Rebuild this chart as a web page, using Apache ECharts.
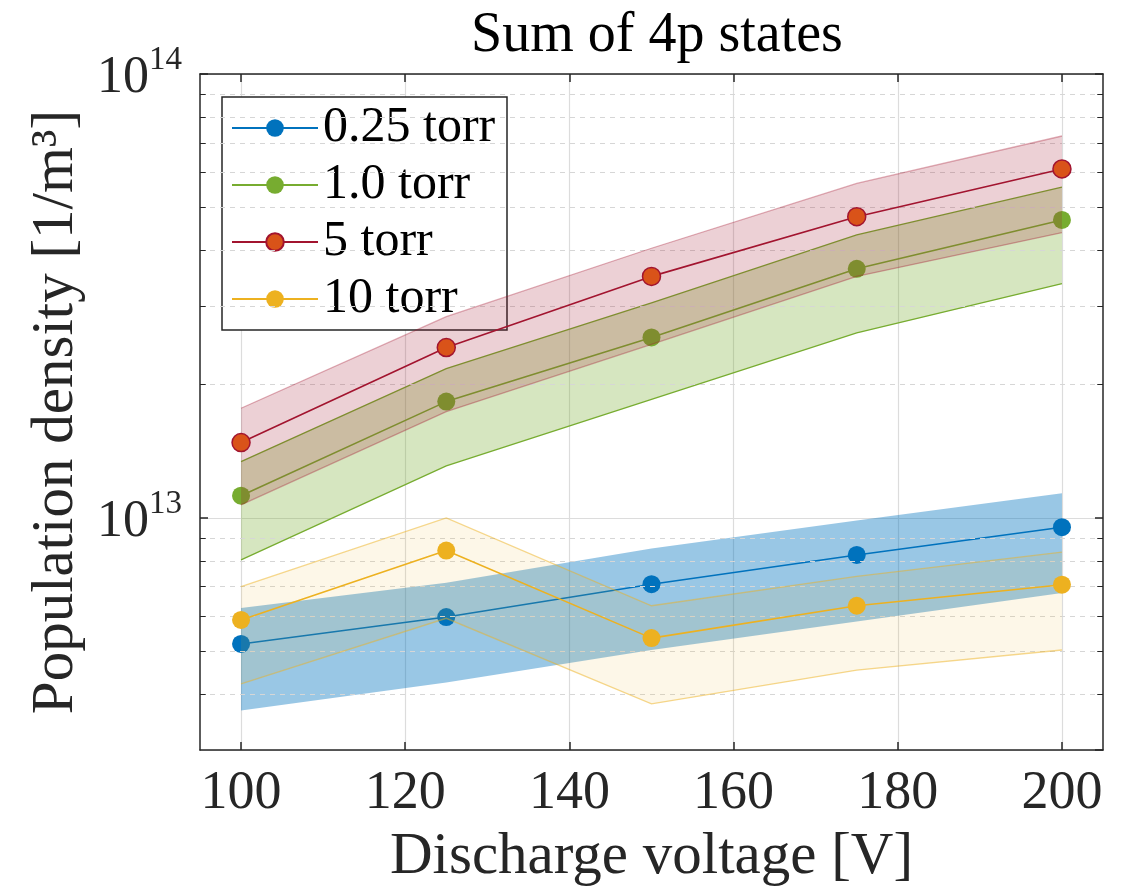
<!DOCTYPE html>
<html>
<head>
<meta charset="utf-8">
<script src="https://cdn.jsdelivr.net/npm/echarts@6/dist/echarts.min.js"></script>
<style>
  html, body { margin: 0; padding: 0; background: #fff; }
  #chart { width: 1122px; height: 890px; }
</style>
</head>
<body>
<div id="chart"></div>
<script>
// discharge voltage [V]
const voltage = [100, 125, 150, 175, 200];
const xTicks = [100, 120, 140, 160, 180, 200];

// population density [1/m^3]
const p025 = [5.20e12, 5.98e12, 7.09e12, 8.25e12, 9.53e12];
const p025Lo = [3.68e12, 4.26e12, 5.04e12, 5.84e12, 6.77e12];
const p025Hi = [6.27e12, 7.14e12, 8.53e12, 9.87e12, 1.137e13];

const p10 = [1.122e13, 1.828e13, 2.55e13, 3.64e13, 4.69e13];
const p10Lo = [8.04e12, 1.31e13, 1.85e13, 2.61e13, 3.37e13];
const p10Hi = [1.339e13, 2.17e13, 3.05e13, 4.34e13, 5.56e13];

const p5 = [1.478e13, 2.42e13, 3.50e13, 4.77e13, 6.11e13];
const p5Lo = [1.07e13, 1.735e13, 2.46e13, 3.50e13, 4.39e13];
const p5Hi = [1.766e13, 2.84e13, 4.05e13, 5.67e13, 7.25e13];

const p100 = [5.89e12, 8.44e12, 5.36e12, 6.34e12, 7.07e12];
const p100Lo = [4.23e12, 5.94e12, 3.81e12, 4.54e12, 5.04e12];
const p100Hi = [7.0e12, 1.0e13, 6.34e12, 7.38e12, 8.37e12];

// dashed minor grid values on the log axis
const minorY = [4e12, 5e12, 6e12, 7e12, 8e12, 9e12, 2e13, 3e13, 4e13, 5e13, 6e13, 7e13, 8e13, 9e13];

const X_MIN = 95, X_MAX = 205;
const Y_MIN = 3e12, Y_MAX = 1e14;
const FONT = "'Liberation Serif', 'DejaVu Serif', serif";

const chart = echarts.init(document.getElementById('chart'), null, { renderer: 'canvas' });

function band(name, lo, hi, fill, edge, edgeWidth, z) {
  return {
    name: name,
    type: 'custom',
    z: z,
    silent: true,
    clip: true,
    data: voltage.map((x, i) => [x, lo[i], hi[i]]),
    encode: { x: 0, y: [1, 2] },
    renderItem: (params, api) => {
      if (params.dataIndex !== 0) return;
      const top = voltage.map((x, i) => api.coord([x, hi[i]]));
      const bot = voltage.map((x, i) => api.coord([x, lo[i]])).reverse();
      const children = [{
        type: 'polygon',
        shape: { points: top.concat(bot) },
        style: { fill: fill, stroke: null }
      }];
      if (edge) {
        children.push({ type: 'polyline', shape: { points: top }, style: { stroke: edge, lineWidth: edgeWidth, fill: null } });
        children.push({ type: 'polyline', shape: { points: bot }, style: { stroke: edge, lineWidth: edgeWidth, fill: null } });
      }
      return { type: 'group', children: children };
    }
  };
}

function line(name, values, color, fill, border, z) {
  return {
    name: name,
    type: 'line',
    z: z,
    data: voltage.map((x, i) => [x, values[i]]),
    symbol: 'circle',
    symbolSize: 18,
    lineStyle: { color: color, width: 1.6 },
    itemStyle: { color: fill, borderColor: border, borderWidth: border === fill ? 0 : 1.5 },
    emphasis: { disabled: true }
  };
}

const tickLen = 0.7;
const minorLines = [];
minorY.forEach(v => {
  minorLines.push({ yAxis: v, lineStyle: { color: '#d6d6d6', type: [5, 5], width: 1 } });
  minorLines.push([{ coord: [X_MIN, v], lineStyle: { color: '#262626', type: 'solid', width: 1 } }, { coord: [X_MIN + tickLen, v] }]);
  minorLines.push([{ coord: [X_MAX - tickLen, v], lineStyle: { color: '#262626', type: 'solid', width: 1 } }, { coord: [X_MAX, v] }]);
});

const axisLineStyle = { color: '#262626', width: 1.5 };

const option = {
  animation: false,
  backgroundColor: '#fff',
  title: {
    text: 'Sum of 4p states',
    left: 652,
    top: 3,
    textAlign: 'center',
    textStyle: { fontFamily: FONT, fontSize: 56, fontWeight: 'normal', color: '#000' }
  },
  grid: { left: 200, top: 74, right: 19, bottom: 140, outerBoundsMode: 'none' },
  legend: {
    data: ['0.25 torr', '1.0 torr', '5 torr', '10 torr'],
    orient: 'vertical',
    left: 222,
    top: 97,
    padding: [6, 8, 6, 9],
    itemWidth: 86,
    itemHeight: 22,
    itemGap: 7,
    backgroundColor: '#fff',
    borderColor: '#262626',
    borderWidth: 1.5,
    textStyle: { fontFamily: FONT, fontSize: 50, color: '#000', lineHeight: 50, width: 176 }
  },
  xAxis: [
    {
      type: 'value',
      min: X_MIN,
      max: X_MAX,
      position: 'bottom',
      name: 'Discharge voltage [V]',
      nameLocation: 'middle',
      nameGap: 78,
      nameTextStyle: { fontFamily: FONT, fontSize: 59, color: '#262626' },
      axisLine: { show: true, lineStyle: axisLineStyle },
      axisTick: { show: true, inside: true, length: 8, customValues: xTicks, lineStyle: axisLineStyle },
      axisLabel: { customValues: xTicks, margin: 17, fontFamily: FONT, fontSize: 54, color: '#262626' },
      splitLine: { show: true, lineStyle: { color: '#dcdcdc', width: 1.2 } }
    },
    {
      type: 'value',
      min: X_MIN,
      max: X_MAX,
      position: 'top',
      axisLine: { show: true, lineStyle: axisLineStyle },
      axisTick: { show: true, inside: true, length: 8, customValues: xTicks, lineStyle: axisLineStyle },
      axisLabel: { show: false },
      splitLine: { show: false }
    }
  ],
  yAxis: [
    {
      type: 'log',
      logBase: 10,
      min: Y_MIN,
      max: Y_MAX,
      position: 'left',
      name: 'Population density [1/m³]',
      nameLocation: 'middle',
      nameGap: 114,
      nameTextStyle: { fontFamily: FONT, fontSize: 59, color: '#262626' },
      axisLine: { show: true, lineStyle: axisLineStyle },
      axisTick: { show: true, inside: true, length: 8, lineStyle: axisLineStyle },
      axisLabel: {
        margin: 18,
        showMinLabel: false,
        formatter: v => {
          const e = Math.log10(v);
          const r = Math.round(e);
          return Math.abs(e - r) < 1e-6 ? '{b|10}{s|' + r + '}' : '';
        },
        rich: {
          b: { fontFamily: FONT, fontSize: 52, color: '#262626', lineHeight: 60, verticalAlign: 'bottom' },
          s: { fontFamily: FONT, fontSize: 33, color: '#262626', lineHeight: 33, verticalAlign: 'top' }
        }
      },
      splitLine: { show: true, lineStyle: { color: '#dcdcdc', width: 1.2 } }
    },
    {
      type: 'log',
      logBase: 10,
      min: Y_MIN,
      max: Y_MAX,
      position: 'right',
      axisLine: { show: true, lineStyle: axisLineStyle },
      axisTick: { show: true, inside: true, length: 8, lineStyle: axisLineStyle },
      axisLabel: { show: false },
      splitLine: { show: false }
    }
  ],
  series: [
    {
      name: 'grid',
      type: 'line',
      z: 1,
      data: [],
      silent: true,
      markLine: { silent: true, symbol: ['none', 'none'], label: { show: false }, animation: false, data: minorLines }
    },
    band('0.25 torr band', p025Lo, p025Hi, 'rgba(0,114,189,0.4)', null, 0, 2),
    line('0.25 torr', p025, '#0072BD', '#0072BD', '#0072BD', 3),
    band('1.0 torr band', p10Lo, p10Hi, 'rgba(119,172,48,0.3)', '#77AC30', 1.3, 4),
    line('1.0 torr', p10, '#77AC30', '#77AC30', '#77AC30', 5),
    band('5 torr band', p5Lo, p5Hi, 'rgba(162,20,47,0.2)', 'rgba(162,20,47,0.35)', 1.3, 6),
    line('5 torr', p5, '#A2142F', '#D95319', '#A2142F', 7),
    band('10 torr band', p100Lo, p100Hi, 'rgba(237,177,32,0.1)', 'rgba(237,177,32,0.5)', 1.3, 8),
    line('10 torr', p100, '#EDB120', '#EDB120', '#EDB120', 9)
  ]
};

chart.setOption(option);
</script>
</body>
</html>
